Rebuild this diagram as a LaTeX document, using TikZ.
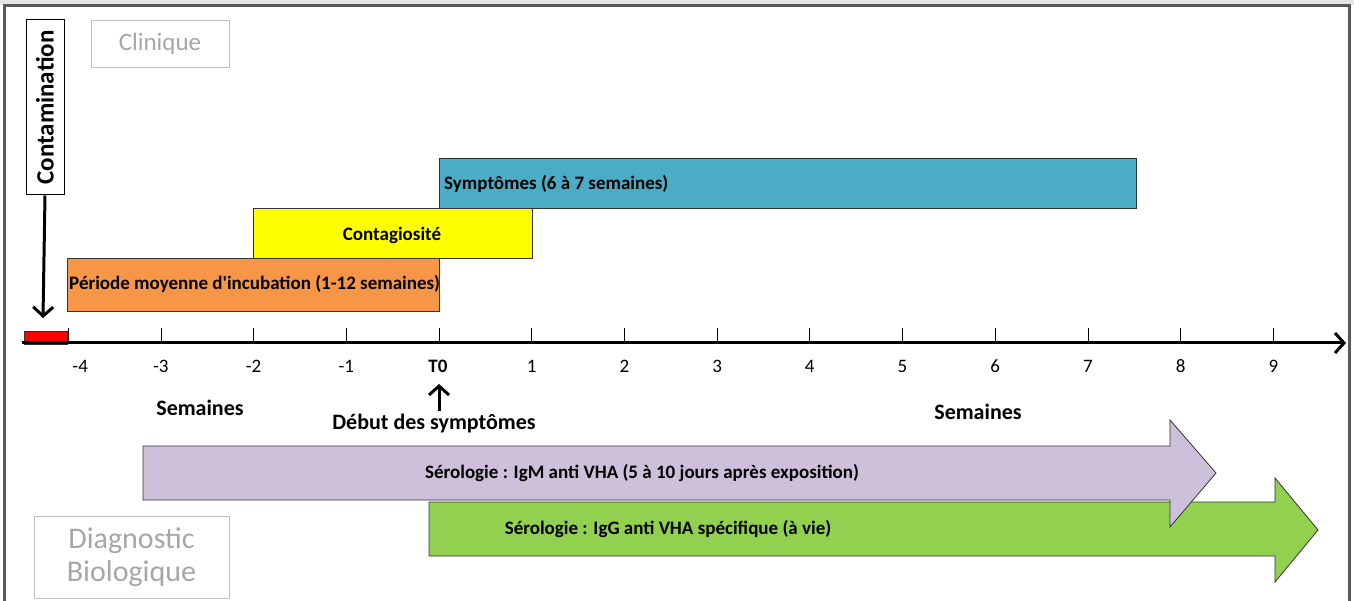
\documentclass[tikz,border=0pt]{standalone}
\usepackage{fontspec}
\setmainfont{Carlito}[Ligatures=TeXOff]
\usetikzlibrary{arrows.meta}

\definecolor{orangebar}{HTML}{F79646}
\definecolor{jaunebar}{HTML}{FFFF00}
\definecolor{bleubar}{HTML}{4BACC6}
\definecolor{violetbar}{HTML}{CCC0DA}
\definecolor{vertbar}{HTML}{92D050}
\definecolor{cadre}{HTML}{595959}
\definecolor{gristexte}{HTML}{A6A6A6}

\tikzset{
  barre/.style={draw=black!80, line width=0.8pt},
  etiquette/.style={font=\bfseries\fontsize{19}{22}\selectfont, inner sep=0pt},
  grande/.style={font=\bfseries\fontsize{22}{26}\selectfont, inner sep=0pt},
  graduation/.style={font=\fontsize{19}{22}\selectfont, inner sep=0pt},
  titre/.style={draw=gristexte!70, line width=0.8pt, text=gristexte, align=center},
  fleche/.style={-{Straight Barb[length=9pt,width=20pt,line width=3pt]}, line width=3pt}
}

\begin{document}
\begin{tikzpicture}[x=1pt,y=-1pt]
\useasboundingbox (0,0) rectangle (1354,601);

% cadre
\fill[black!10] (0,0) rectangle (1354,5);
\draw[cadre, line width=2.5pt] (4.5,601) -- (4.5,5.5) -- (1349.5,5.5) -- (1349.5,601);

% phase clinique
\draw[barre, fill=orangebar] (67,258) rectangle (439,311);
\draw[barre, fill=jaunebar] (253,208) rectangle (532,258);
\draw[barre, fill=bleubar] (439,158) rectangle (1136,208);
\node[etiquette, anchor=west] (incub) at (69,284) {Période moyenne d'incubation (1-12 semaines)};
\node[etiquette] (contag) at (392,235) {Contagiosité};
\node[etiquette, anchor=west] (sympt) at (444,184) {Symptômes (6 à 7 semaines)};

\node[titre, minimum width=138pt, minimum height=47pt,
      font=\fontsize{25}{28}\selectfont] (clinique) at (160,43.5) {Clinique};

% contamination
\node[draw, line width=1pt, fill=white, rotate=90, minimum width=175pt, minimum height=38pt,
      inner sep=0pt, font=\bfseries\fontsize{25}{28}\selectfont] (contam) at (45,107.5) {Contamination};
\coordinate (infect) at (43,318);
\draw[fleche] (contam.west) -- (infect);

% axe du temps
\fill[red, draw=black!80] (24,331) rectangle (67,344);
\coordinate (debut) at (22,343);
\coordinate (fin) at (1346,343);
\draw[fleche] (debut) -- (fin);
\foreach \w/\lab in {-4/-4,-3/-3,-2/-2,-1/-1,1/1,2/2,3/3,4/4,5/5,6/6,7/7,8/8,9/9} {
  \draw[line width=0.8pt] ({439+92.7*\w},328) -- ({439+92.7*\w},343);
  \node[graduation] (t\w) at ({439+92.7*\w+(\w==-4)*12},366) {\lab};
}
\draw[line width=0.8pt] (439,328) -- (439,343);
\node[graduation, font=\bfseries\fontsize{19}{22}\selectfont] (t0) at (438,366) {T0};

\node[grande] (semg) at (200,408) {Semaines};
\node[grande] (semd) at (978,412) {Semaines};
\node[grande] (dsympt) at (434,424) {Début des symptômes};
\coordinate (basfleche) at (439,411);
\draw[fleche] (basfleche) -- (439,384);

% diagnostic biologique
\draw[barre, fill=vertbar] (429,502) -- (1275,502) -- (1275,478) -- (1318,530)
  -- (1275,582) -- (1275,556) -- (429,556) -- cycle;
\draw[barre, fill=violetbar] (143,446) -- (1170,446) -- (1170,420) -- (1216,473)
  -- (1170,527) -- (1170,500) -- (143,500) -- cycle;
\node[etiquette] (igm) at (642,473) {Sérologie : IgM anti VHA (5 à 10 jours après exposition)};
\node[etiquette] (igg) at (668,529) {Sérologie : IgG anti VHA spécifique (à vie)};

\node[titre, minimum width=195pt, minimum height=82pt,
      font=\fontsize{30}{33}\selectfont] (diag) at (131.5,557) {Diagnostic\\Biologique};
\end{tikzpicture}
\end{document}
